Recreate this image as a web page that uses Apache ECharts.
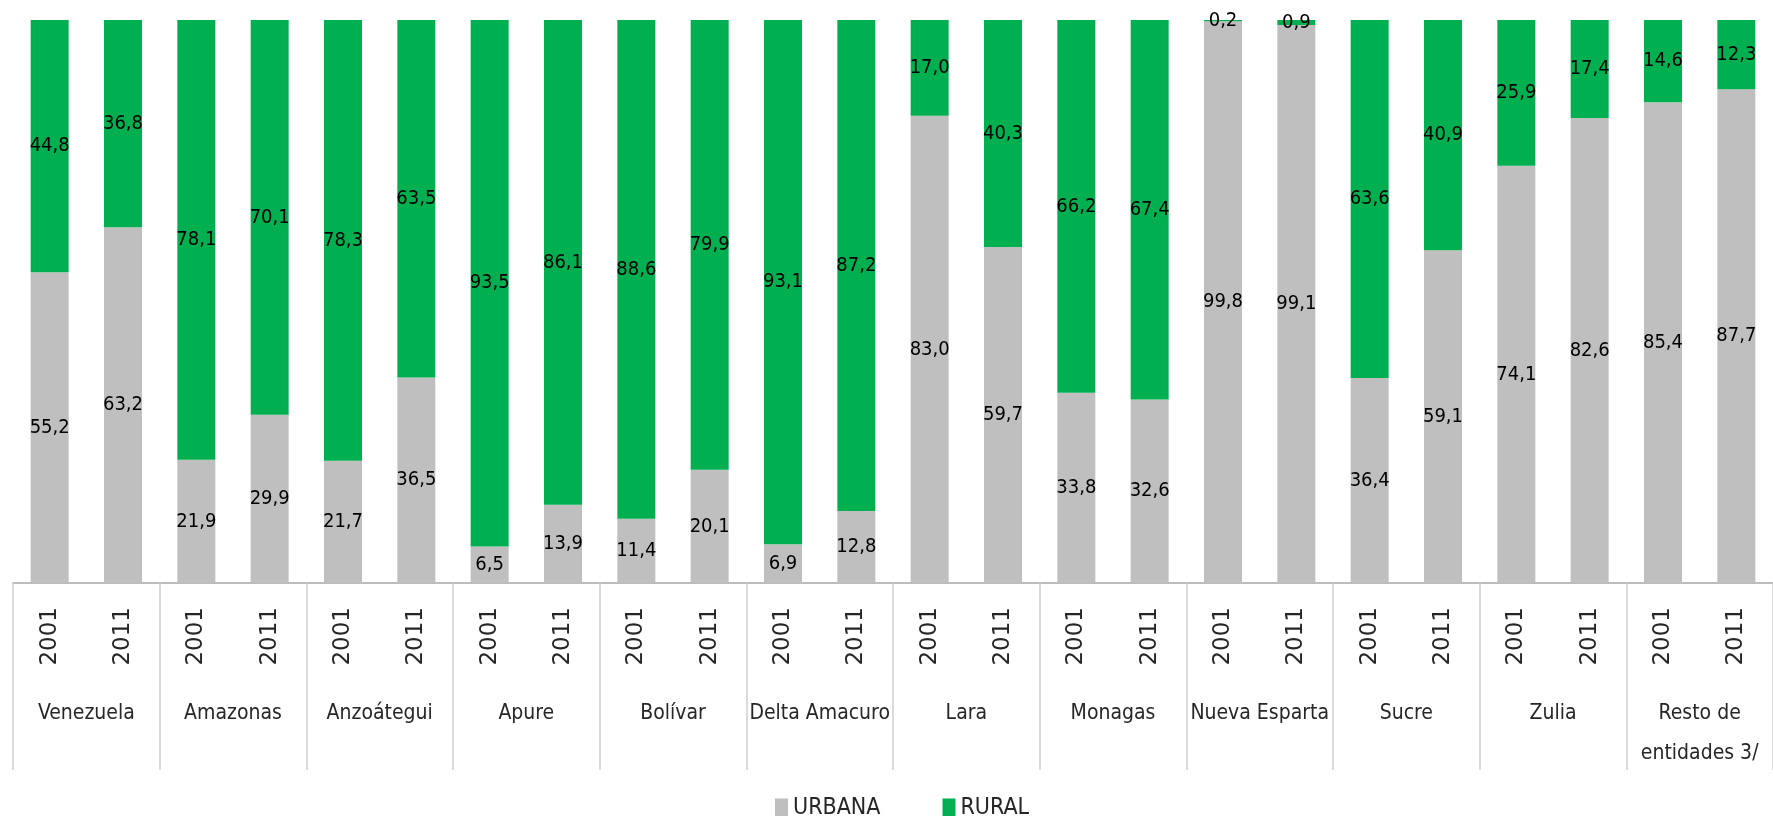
<!DOCTYPE html>
<html>
<head>
<meta charset="utf-8">
<title>Población urbana y rural</title>
<script src="https://cdn.jsdelivr.net/npm/echarts@6/dist/echarts.min.js"></script>
<style>
  html, body { margin: 0; padding: 0; background: #fff; }
  #chart { width: 1773px; height: 816px; }
</style>
</head>
<body>
<div id="chart"></div>
<script>
// grupos (entidades) y años
var groups = ["Venezuela", "Amazonas", "Anzoátegui", "Apure", "Bolívar", "Delta Amacuro",
  "Lara", "Monagas", "Nueva Esparta", "Sucre", "Zulia", "Resto de\nentidades 3/"];
var years = ["2001", "2011"];

// porcentajes por barra (2001, 2011 de cada entidad)
var urbana = [55.2, 63.2, 21.9, 29.9, 21.7, 36.5, 6.5, 13.9, 11.4, 20.1, 6.9, 12.8,
  83.0, 59.7, 33.8, 32.6, 99.8, 99.1, 36.4, 59.1, 74.1, 82.6, 85.4, 87.7];
var rural = [44.8, 36.8, 78.1, 70.1, 78.3, 63.5, 93.5, 86.1, 88.6, 79.9, 93.1, 87.2,
  17.0, 40.3, 66.2, 67.4, 0.2, 0.9, 63.6, 40.9, 25.9, 17.4, 14.6, 12.3];

var narrow = "'Liberation Sans Narrow', 'DejaVu Sans Condensed', sans-serif";

// una categoría por barra, clave única "entidad|año"
var barCats = [];
groups.forEach(function (g) {
  years.forEach(function (y) { barCats.push(g + "|" + y); });
});

var chartDom = document.getElementById("chart");
var myChart = echarts.init(chartDom);

var valueLabel = {
  show: true,
  position: "inside",
  color: "#000",
  fontFamily: narrow,
  fontSize: 20,
  formatter: function (p) { return p.value.toFixed(1).replace(".", ","); }
};

var option = {
  animation: false,
  grid: { left: 13, right: -13, top: 20, bottom: 233 },
  legend: {
    left: 770,
    top: 792,
    itemWidth: 13,
    itemHeight: 20,
    itemGap: 62,
    icon: "rect",
    textStyle: { fontFamily: narrow, fontSize: 23, color: "#262626" },
    data: ["URBANA", "RURAL"]
  },
  xAxis: [
    {
      type: "category",
      data: barCats,
      axisLine: { lineStyle: { color: "#a6a6a6", width: 1.5 } },
      axisTick: { show: false },
      axisLabel: {
        interval: 0,
        rotate: 90,
        margin: 24,
        fontFamily: "'DejaVu Sans', sans-serif",
        fontSize: 23,
        color: "#262626",
        formatter: function (v) { return v.split("|")[1]; }
      }
    },
    {
      type: "category",
      position: "bottom",
      data: groups,
      axisLine: { show: false },
      axisTick: { show: true, length: 187, lineStyle: { color: "#d0d0d0", width: 1.5 } },
      axisLabel: {
        interval: 0,
        margin: 111,
        fontFamily: narrow,
        fontSize: 21,
        lineHeight: 40,
        color: "#262626"
      }
    }
  ],
  yAxis: {
    type: "value",
    min: 0,
    max: 100,
    show: false
  },
  series: [
    {
      name: "URBANA",
      type: "bar",
      stack: "total",
      barWidth: 38,
      itemStyle: { color: "#bfbfbf" },
      label: valueLabel,
      data: urbana
    },
    {
      name: "RURAL",
      type: "bar",
      stack: "total",
      barWidth: 38,
      itemStyle: { color: "#00b050" },
      label: valueLabel,
      data: rural
    }
  ]
};

myChart.setOption(option);

window.addEventListener("resize", function () {
  myChart.resize();
});
</script>
</body>
</html>
